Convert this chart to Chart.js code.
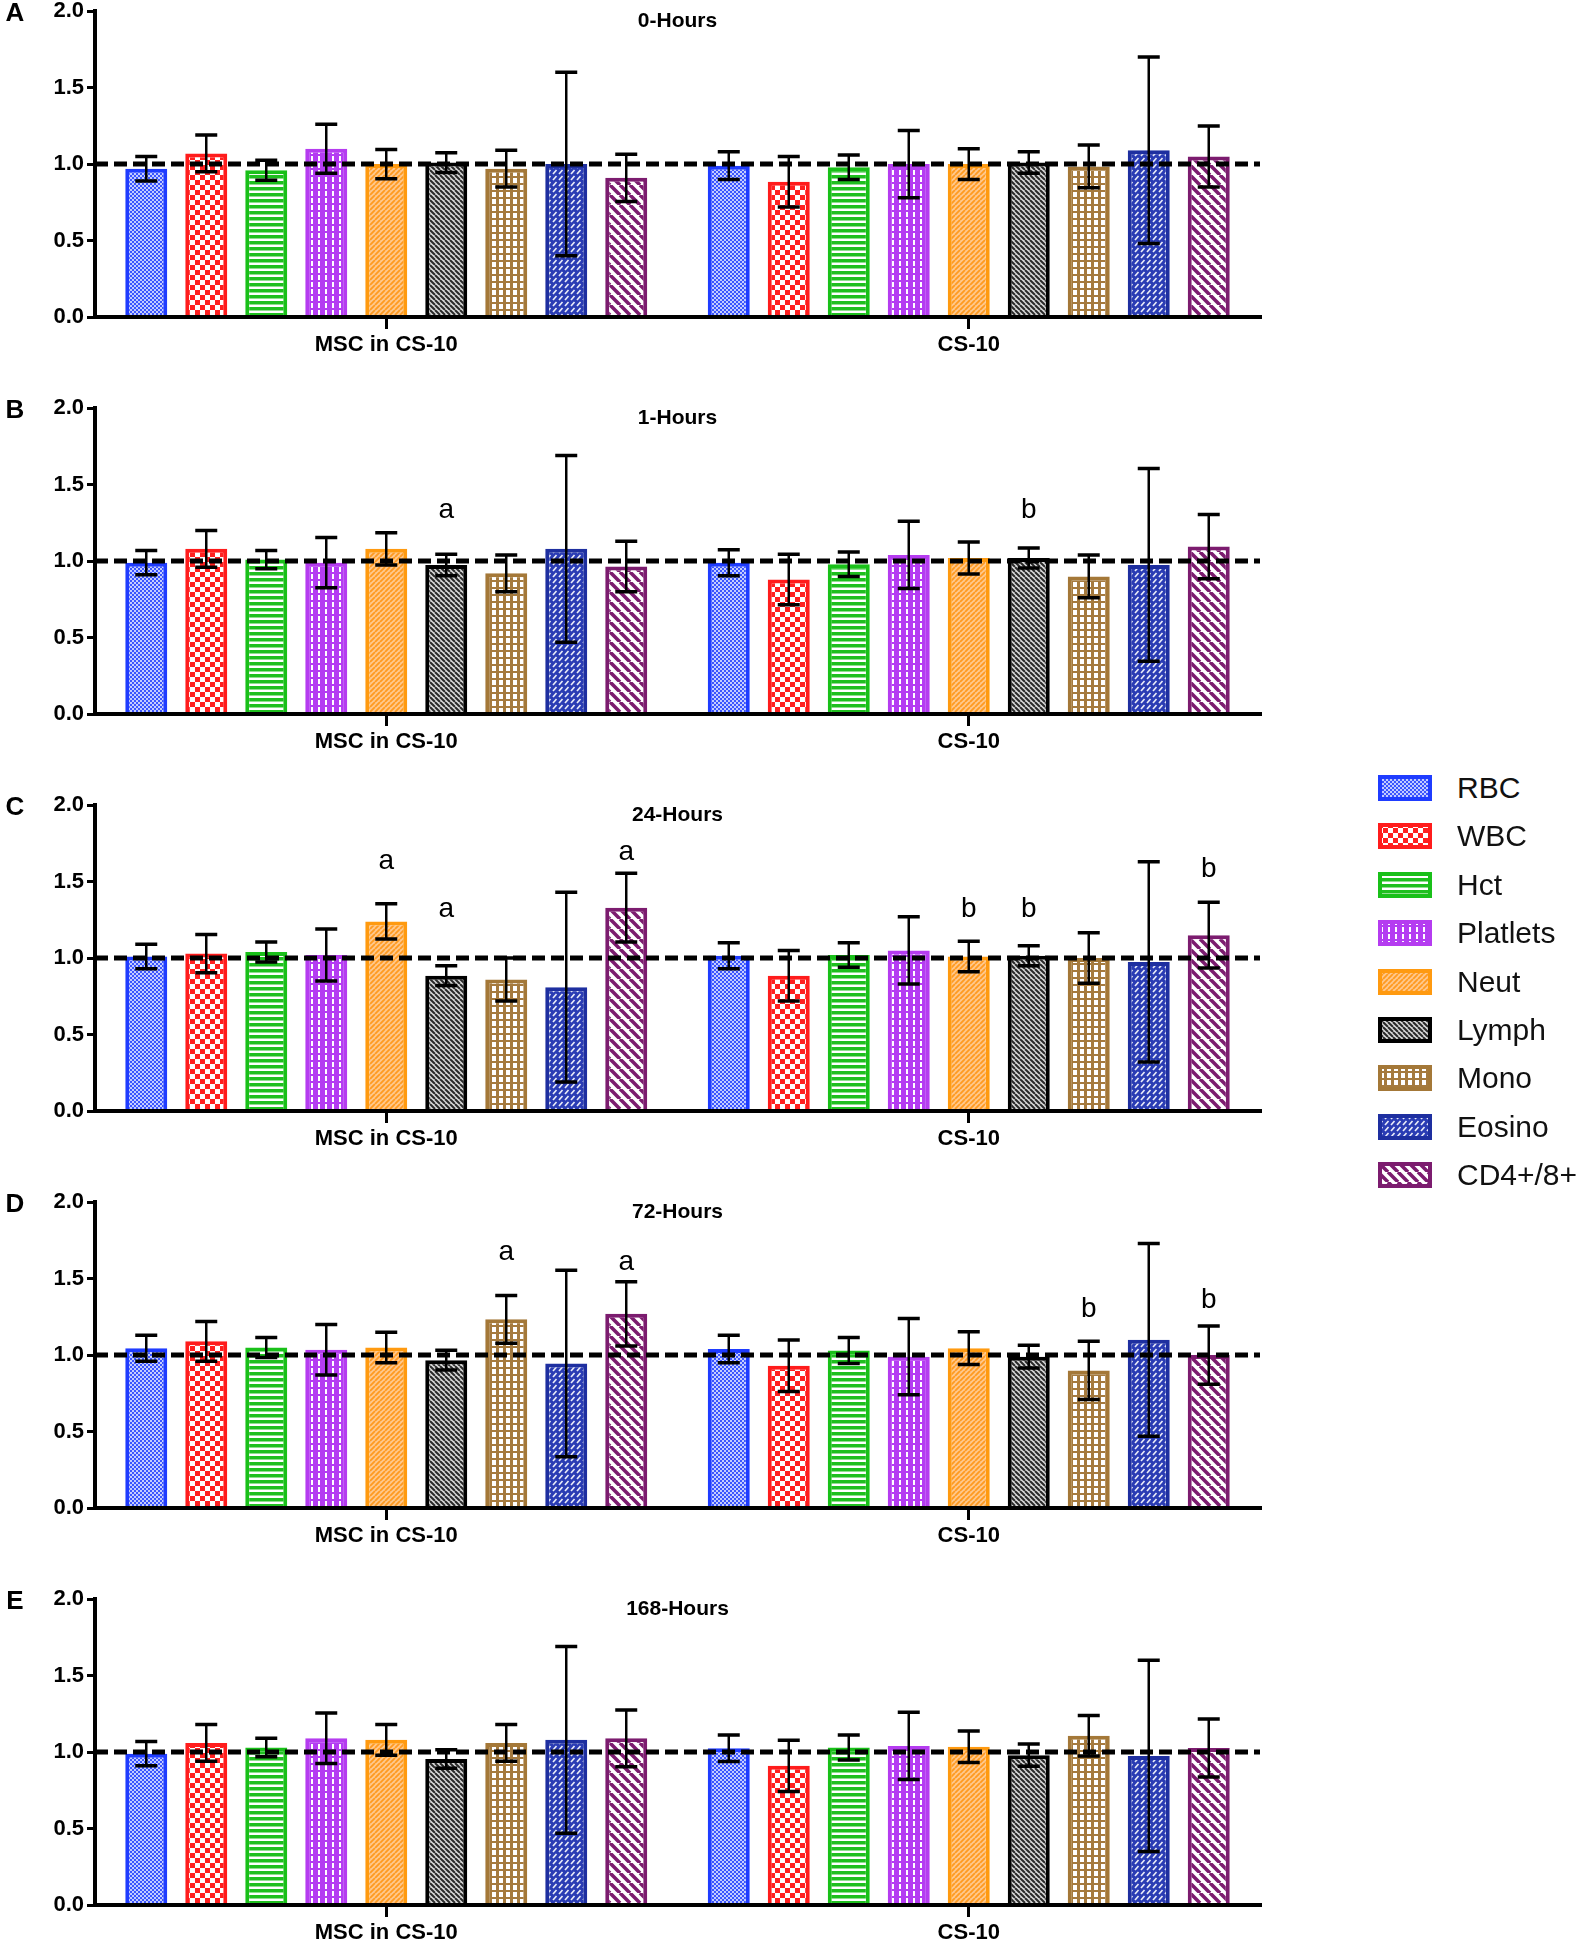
<!DOCTYPE html>
<html>
<head>
<meta charset="utf-8">
<script src="https://cdn.jsdelivr.net/npm/chart.js@4.4.1/dist/chart.umd.min.js"></script>
<style>
  html, body { margin: 0; padding: 0; background: #fff; overflow: hidden; }
  #page { position: relative; width: 1582px; height: 1939px; }
  .panel { position: absolute; left: 0; width: 1290px; height: 360px; }
  .legend-row { position: absolute; left: 1378px; height: 30px; display: flex; align-items: center; }
  .legend-row canvas { display: block; }
  .legend-row span { margin-left: 25px; font: 30px Arial, 'Liberation Sans', sans-serif; color: #111; }
</style>
</head>
<body>
<div id="page"></div>
<script>
// Groups on the x axis
const categories = ['MSC in CS-10', 'CS-10'];
// Blood parameters, one dataset each
const cellTypes = ['RBC', 'WBC', 'Hct', 'Platlets', 'Neut', 'Lymph', 'Mono', 'Eosino', 'CD4+/8+'];
const panelTitles = ['0-Hours', '1-Hours', '24-Hours', '72-Hours', '168-Hours'];
const panelLetters = ['A', 'B', 'C', 'D', 'E'];
const yTicks = [0, 0.5, 1.0, 1.5, 2.0];

// Mean (normalised) values and error bar sizes
const msc0h = [0.97, 1.07, 0.96, 1.10, 1.00, 1.01, 0.97, 1.00, 0.91];
const mscErr0h = [0.08, 0.12, 0.065, 0.16, 0.095, 0.065, 0.12, 0.60, 0.155];
const cs0h = [0.99, 0.885, 0.98, 1.00, 1.00, 1.01, 0.985, 1.09, 1.05];
const csErr0h = [0.09, 0.165, 0.08, 0.22, 0.10, 0.07, 0.14, 0.61, 0.20];

const msc1h = [0.99, 1.08, 1.01, 0.99, 1.08, 0.975, 0.92, 1.08, 0.965];
const mscErr1h = [0.08, 0.12, 0.06, 0.165, 0.105, 0.07, 0.12, 0.61, 0.165];
const cs1h = [0.99, 0.88, 0.98, 1.04, 1.02, 1.02, 0.90, 0.975, 1.095];
const csErr1h = [0.085, 0.165, 0.08, 0.22, 0.105, 0.065, 0.14, 0.63, 0.21];

const msc24h = [1.01, 1.03, 1.04, 1.02, 1.24, 0.885, 0.86, 0.81, 1.33];
const mscErr24h = [0.08, 0.125, 0.065, 0.17, 0.115, 0.065, 0.14, 0.62, 0.225];
const cs24h = [1.015, 0.885, 1.02, 1.05, 1.01, 1.015, 1.00, 0.975, 1.15];
const csErr24h = [0.085, 0.165, 0.08, 0.22, 0.10, 0.065, 0.165, 0.655, 0.215];

const msc72h = [1.045, 1.09, 1.05, 1.035, 1.05, 0.967, 1.234, 0.945, 1.27];
const mscErr72h = [0.085, 0.13, 0.065, 0.165, 0.10, 0.065, 0.156, 0.61, 0.21];
const cs72h = [1.04, 0.93, 1.03, 0.99, 1.045, 0.99, 0.90, 1.10, 1.00];
const csErr72h = [0.09, 0.168, 0.085, 0.25, 0.107, 0.075, 0.19, 0.63, 0.19];

const msc168h = [0.99, 1.06, 1.03, 1.09, 1.08, 0.955, 1.06, 1.08, 1.09];
const mscErr168h = [0.08, 0.12, 0.06, 0.165, 0.10, 0.06, 0.12, 0.61, 0.185];
const cs168h = [1.025, 0.91, 1.03, 1.04, 1.035, 0.98, 1.107, 0.975, 1.027];
const csErr168h = [0.087, 0.167, 0.082, 0.22, 0.103, 0.073, 0.132, 0.625, 0.19];

// Significance letters: [text, group index, cell index, y value]
const letters0h = [];
const letters1h = [['a', 0, 5, 1.33], ['b', 1, 5, 1.33]];
const letters24h = [['a', 0, 4, 1.63], ['a', 0, 5, 1.32], ['a', 0, 8, 1.69],
                    ['b', 1, 4, 1.32], ['b', 1, 5, 1.32], ['b', 1, 8, 1.58]];
const letters72h = [['a', 0, 6, 1.67], ['a', 0, 8, 1.61], ['b', 1, 6, 1.30], ['b', 1, 8, 1.36]];
const letters168h = [];

const panels = [
  { msc: msc0h, mscErr: mscErr0h, cs: cs0h, csErr: csErr0h, letters: letters0h },
  { msc: msc1h, mscErr: mscErr1h, cs: cs1h, csErr: csErr1h, letters: letters1h },
  { msc: msc24h, mscErr: mscErr24h, cs: cs24h, csErr: csErr24h, letters: letters24h },
  { msc: msc72h, mscErr: mscErr72h, cs: cs72h, csErr: csErr72h, letters: letters72h },
  { msc: msc168h, mscErr: mscErr168h, cs: cs168h, csErr: csErr168h, letters: letters168h }
];

const FONT = "Arial, 'Liberation Sans', Helvetica, sans-serif";
const borderColors = ['#1f3cff', '#ff1c1c', '#19c019', '#b53cf0', '#ff9a10', '#000000', '#a47838', '#1e2fa0', '#7c1c6f'];

// Draw diagonal stripes that tile seamlessly
function diag(ctx, s, dir, width, color) {
  ctx.strokeStyle = color;
  ctx.lineWidth = width;
  ctx.beginPath();
  for (let k = -1; k <= 1; k++) {
    if (dir === '\\') { ctx.moveTo(k * s, 0); ctx.lineTo(k * s + s, s); }
    else { ctx.moveTo(k * s, s); ctx.lineTo(k * s + s, 0); }
  }
  ctx.stroke();
}

function makePattern(idx) {
  const tile = document.createElement('canvas');
  const sizes = [4, 10, 6, 7, 5, 5, 7, 6, 10];
  const s = sizes[idx];
  tile.width = s; tile.height = s;
  const c = tile.getContext('2d');
  switch (idx) {
    case 0: // RBC fine dots
      c.fillStyle = '#3a55ff'; c.fillRect(0, 0, s, s);
      c.fillStyle = 'rgba(255,255,255,0.7)';
      c.fillRect(0, 0, 2, 2); c.fillRect(2, 2, 2, 2);
      break;
    case 1: // WBC checker
      c.fillStyle = '#fff'; c.fillRect(0, 0, s, s);
      c.fillStyle = '#ff2020';
      c.fillRect(0, 0, 5, 5); c.fillRect(5, 5, 5, 5);
      break;
    case 2: // Hct horizontal stripes
      c.fillStyle = '#1fbf1f'; c.fillRect(0, 0, s, s);
      c.fillStyle = '#ffffff'; c.fillRect(0, 3.5, s, 2.5);
      break;
    case 3: // Platelets vertical dashed lines
      c.fillStyle = '#b43cf2'; c.fillRect(0, 0, s, s);
      c.fillStyle = '#ffffff'; c.fillRect(3, 0, 2, 5);
      break;
    case 4: // Neut light diagonal
      c.fillStyle = '#ffc88c'; c.fillRect(0, 0, s, s);
      diag(c, s, '/', 1.8, '#ff9a20');
      break;
    case 5: // Lymph dark diagonal
      c.fillStyle = '#d8d8d8'; c.fillRect(0, 0, s, s);
      diag(c, s, '\\', 2.0, '#2a2a2a');
      break;
    case 6: // Mono grid
      c.fillStyle = '#a57a3e'; c.fillRect(0, 0, s, s);
      c.fillStyle = '#ffffff'; c.fillRect(2, 1, 4, 5);
      break;
    case 7: // Eosino dashes
      c.fillStyle = '#2a3cb4'; c.fillRect(0, 0, s, s);
      c.strokeStyle = 'rgba(255,255,255,0.9)'; c.lineWidth = 1.6;
      c.beginPath(); c.moveTo(1, 5); c.lineTo(4.5, 1); c.stroke();
      break;
    case 8: // CD4 wide diagonal
      c.fillStyle = '#ffffff'; c.fillRect(0, 0, s, s);
      diag(c, s, '\\', 3.6, '#7c1c6f');
      break;
  }
  return c.createPattern(tile, 'repeat');
}

const page = document.getElementById('page');

// Dashed reference line, error bars, letters, title and panel letter
const decorPlugin = {
  id: 'decor',
  afterDatasetsDraw(chart, args, opts) {
    const { ctx, chartArea } = chart;
    const y = chart.scales.y;
    ctx.save();
    // redraw the x axis line over the bar bottoms
    ctx.strokeStyle = '#000'; ctx.lineWidth = 4; ctx.setLineDash([]);
    ctx.beginPath(); ctx.moveTo(chartArea.left - 2, chartArea.bottom); ctx.lineTo(chartArea.right, chartArea.bottom); ctx.stroke();
    // dashed line at 1.0
    const y1 = y.getPixelForValue(1.0);
    ctx.lineWidth = 5; ctx.setLineDash([13, 6]);
    ctx.beginPath(); ctx.moveTo(chartArea.left, y1); ctx.lineTo(chartArea.right, y1); ctx.stroke();
    ctx.setLineDash([]);
    // error bars
    chart.data.datasets.forEach((ds, i) => {
      const meta = chart.getDatasetMeta(i);
      meta.data.forEach((bar, j) => {
        const v = ds.data[j], e = ds.errors[j];
        const top = y.getPixelForValue(v + e), bot = y.getPixelForValue(v - e);
        ctx.lineWidth = 2.5;
        ctx.beginPath(); ctx.moveTo(bar.x, top); ctx.lineTo(bar.x, bot); ctx.stroke();
        ctx.lineWidth = 3.5;
        ctx.beginPath();
        ctx.moveTo(bar.x - 11, top); ctx.lineTo(bar.x + 11, top);
        ctx.moveTo(bar.x - 11, bot); ctx.lineTo(bar.x + 11, bot);
        ctx.stroke();
      });
    });
    // significance letters
    ctx.fillStyle = '#000';
    ctx.textAlign = 'center'; ctx.textBaseline = 'middle';
    ctx.font = '28px ' + FONT;
    opts.letters.forEach(([t, g, k, at]) => {
      const bar = chart.getDatasetMeta(k).data[g];
      ctx.fillText(t, bar.x, y.getPixelForValue(at));
    });
    // title
    ctx.font = 'bold 21px ' + FONT;
    ctx.fillText(opts.title, (chartArea.left + chartArea.right) / 2, chartArea.top + 10);
    // panel letter
    ctx.font = 'bold 26px ' + FONT;
    ctx.fillText(opts.letter, 15, chartArea.top + 3);
    ctx.restore();
  }
};

panels.forEach((p, i) => {
  const div = document.createElement('div');
  div.className = 'panel';
  div.style.top = (397 * i - 5) + 'px';
  const canvas = document.createElement('canvas');
  canvas.width = 1290; canvas.height = 360;
  div.appendChild(canvas);
  page.appendChild(div);

  const datasets = cellTypes.map((name, k) => ({
    label: name,
    data: [p.msc[k], p.cs[k]],
    errors: [p.mscErr[k], p.csErr[k]],
    backgroundColor: makePattern(k),
    borderColor: borderColors[k],
    borderWidth: 4,
    borderSkipped: 'start',
    categoryPercentage: 0.927,
    barPercentage: 0.7
  }));

  new Chart(canvas, {
    type: 'bar',
    data: { labels: categories, datasets },
    options: {
      responsive: false,
      animation: false,
      layout: { padding: { top: 13, left: 0, right: 30, bottom: 0 } },
      plugins: {
        legend: { display: false },
        tooltip: { enabled: false },
        decor: { title: panelTitles[i], letter: panelLetters[i], letters: p.letters }
      },
      scales: {
        x: {
          afterFit: s => { s.height = 38; },
          grid: { offset: false, drawOnChartArea: false, drawTicks: true, tickLength: 12, lineWidth: 3, color: '#000' },
          border: { display: true, color: '#000', width: 4 },
          ticks: { color: '#000', padding: 3, font: { family: FONT, size: 22, weight: 'bold' } }
        },
        y: {
          min: 0, max: 2,
          afterFit: s => { s.width = 95; },
          afterBuildTicks: s => { s.ticks = yTicks.map(v => ({ value: v })); },
          grid: { drawOnChartArea: false, drawTicks: true, tickLength: 8, lineWidth: 3, color: '#000' },
          border: { display: true, color: '#000', width: 4 },
          ticks: {
            color: '#000', padding: 3,
            font: { family: FONT, size: 22, weight: 'bold' },
            callback: v => Number(v).toFixed(1)
          }
        }
      }
    },
    plugins: [decorPlugin]
  });
});

// Legend on the right, built from the same patterns
cellTypes.forEach((name, k) => {
  const row = document.createElement('div');
  row.className = 'legend-row';
  row.style.top = (788 + 48.4 * k - 15) + 'px';
  const sw = document.createElement('canvas');
  sw.width = 54; sw.height = 26;
  const c = sw.getContext('2d');
  c.fillStyle = makePattern(k);
  c.fillRect(0, 0, 54, 26);
  c.strokeStyle = borderColors[k]; c.lineWidth = 4;
  c.strokeRect(2, 2, 50, 22);
  const label = document.createElement('span');
  label.textContent = name;
  row.appendChild(sw);
  row.appendChild(label);
  page.appendChild(row);
});
</script>
</body>
</html>
